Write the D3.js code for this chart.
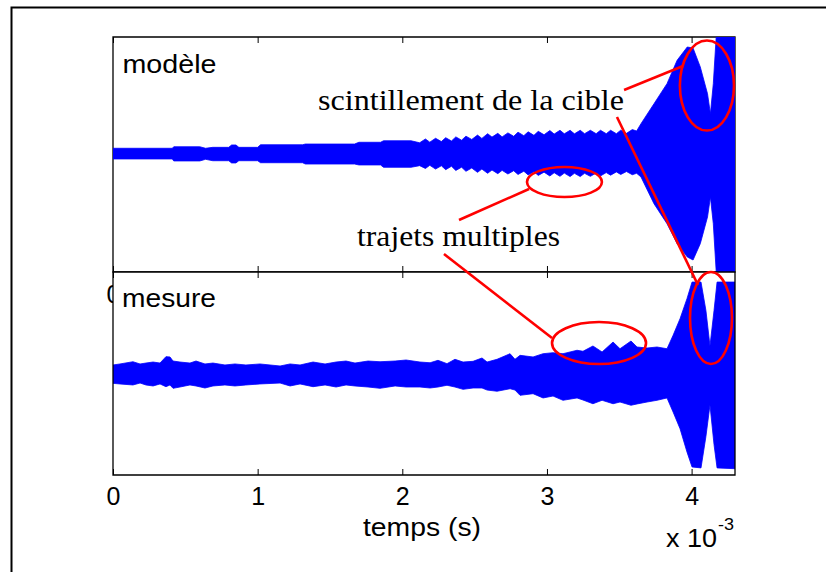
<!DOCTYPE html>
<html><head><meta charset="utf-8">
<script src="https://cdn.jsdelivr.net/npm/d3@7/dist/d3.min.js"></script>
<style>body{margin:0;background:#fff}svg{display:block}</style>
</head><body>
<script>
// ---------------- data ----------------
const xTicks = [0, 1, 2, 3, 4];
const xLabel = "temps (s)";
const xExponent = "-3";
const panelLabels = ["modèle", "mesure"];

// top panel : signal modelled (envelope, upper / lower)
const modeleT = [0,0.41,0.42,0.60,0.64,0.69,0.80,0.82,0.85,0.87,1.00,1.02,1.31,1.33,1.67,1.70,1.85,1.87,2.06,2.12,
  2.16,2.19,2.23,2.27,2.30,2.34,2.37,2.41,2.44,2.48,2.52,2.55,2.59,2.62,2.66,2.69,2.73,2.77,2.80,2.84,2.87,2.91,2.94,2.98,
  3.02,3.05,3.09,3.12,3.16,3.19,3.23,3.26,3.30,3.34,3.37,3.41,3.44,3.48,3.51,3.55,3.59,3.62,
  3.65,3.74,3.83,3.90,3.97,4.01,4.06,4.11,4.13,4.15,4.18,4.30];
const modeleHaut = [0.053,0.053,0.066,0.066,0.053,0.061,0.061,0.081,0.081,0.061,0.061,0.083,0.083,0.089,0.089,0.104,0.104,0.117,0.117,0.100,
  0.132,0.105,0.138,0.110,0.143,0.115,0.150,0.122,0.156,0.128,0.165,0.137,0.177,0.148,0.180,0.150,0.184,0.155,0.190,0.160,0.193,0.163,0.197,0.168,
  0.204,0.174,0.206,0.176,0.206,0.176,0.206,0.177,0.206,0.177,0.206,0.177,0.206,0.177,0.207,0.180,0.212,0.200,
  0.262,0.432,0.603,0.802,0.915,0.906,0.745,0.517,0.347,0.603,1.2,1.2];
const modeleBas = [-0.038,-0.038,-0.055,-0.055,-0.041,-0.053,-0.053,-0.072,-0.072,-0.053,-0.053,-0.070,-0.070,-0.081,-0.081,-0.089,-0.089,-0.109,-0.109,-0.095,
  -0.119,-0.092,-0.124,-0.096,-0.129,-0.100,-0.136,-0.108,-0.143,-0.115,-0.152,-0.124,-0.160,-0.132,-0.163,-0.135,-0.166,-0.138,-0.170,-0.142,-0.174,-0.146,-0.178,-0.150,
  -0.183,-0.155,-0.186,-0.158,-0.188,-0.160,-0.188,-0.160,-0.186,-0.158,-0.182,-0.154,-0.176,-0.148,-0.170,-0.145,-0.172,-0.160,
  -0.191,-0.419,-0.589,-0.759,-0.872,-0.898,-0.759,-0.532,-0.362,-0.589,-1.2,-1.2];

// bottom panel : measured signal (envelope, upper / lower)
const mesureT = [0,0.048,0.138,0.187,0.228,0.277,0.325,0.366,0.394,0.415,0.463,0.532,0.574,0.636,0.691,0.774,0.843,0.919,1.016,1.155,
  1.224,1.293,1.383,1.466,1.542,1.611,1.673,1.763,1.846,1.950,2.026,2.122,2.192,2.247,2.309,2.364,2.420,2.489,2.551,2.586,
  2.655,2.745,2.779,2.814,2.904,2.973,3.042,3.111,3.208,3.249,3.318,3.381,3.457,3.505,3.581,3.623,3.692,3.761,3.830,3.872,
  3.920,3.968,4.003,4.065,4.099,4.127,4.155,4.176,4.300];
const mesureHaut = [0.084,0.094,0.116,0.094,0.103,0.113,0.103,0.166,0.163,0.123,0.113,0.103,0.123,0.094,0.103,0.084,0.094,0.084,0.094,0.074,
  0.094,0.084,0.113,0.094,0.113,0.123,0.103,0.123,0.116,0.123,0.133,0.113,0.106,0.130,0.097,0.140,0.113,0.120,0.153,0.113,
  0.140,0.195,0.140,0.179,0.163,0.195,0.205,0.195,0.229,0.219,0.271,0.212,0.310,0.244,0.320,0.261,0.251,0.261,0.244,0.376,
  0.540,0.737,0.901,0.901,0.620,0.271,0.620,0.901,0.901];
const mesureBas = [-0.097,-0.103,-0.113,-0.094,-0.113,-0.123,-0.103,-0.130,-0.113,-0.146,-0.133,-0.113,-0.123,-0.143,-0.123,-0.113,-0.123,-0.113,-0.103,-0.094,
  -0.123,-0.103,-0.130,-0.113,-0.133,-0.113,-0.123,-0.133,-0.146,-0.123,-0.133,-0.133,-0.143,-0.133,-0.116,-0.133,-0.156,-0.143,-0.143,-0.163,
  -0.175,-0.150,-0.163,-0.215,-0.199,-0.241,-0.222,-0.264,-0.241,-0.261,-0.298,-0.264,-0.298,-0.281,-0.313,-0.300,-0.281,-0.264,-0.241,-0.379,
  -0.544,-0.773,-0.921,-0.930,-0.620,-0.310,-0.700,-0.930,-0.938];

// annotations (data coordinates: t in 1e-3 s, amplitude in panel units)
const annotTexts = [
  {panel: 0, t: 1.417, v: 0.379, text: "scintillement de la cible", len: 306},
  {panel: 0, t: 1.687, v: -0.779, text: "trajets multiples", len: 203}
];
const annotEllipses = [
  {panel: 0, t: 4.106, v: 0.587, rt: 0.187, rv: 0.383},
  {panel: 0, t: 3.121, v: -0.234, rt: 0.259, rv: 0.128},
  {panel: 1, t: 3.360, v: 0.300, rt: 0.325, rv: 0.207},
  {panel: 1, t: 4.134, v: 0.547, rt: 0.145, rv: 0.453}
];
const annotLines = [
  {p1: 0, t1: 3.533, v1: 0.549, p2: 0, t2: 3.941, v2: 0.753},
  {p1: 0, t1: 3.484, v1: 0.319, p2: 1, t2: 4.044, v2: 0.872},
  {p1: 0, t1: 2.392, v1: -0.557, p2: 0, t2: 2.876, v2: -0.294},
  {p1: 0, t1: 2.288, v1: -0.847, p2: 1, t2: 3.035, v2: 0.350}
];

// ---------------- drawing ----------------
const W = 826, H = 572;
const SANS = "'Liberation Sans', Arial, Helvetica, sans-serif";
const SERIF = "'Liberation Serif', 'Times New Roman', serif";
const BLUE = "#0000ff", RED = "#ff0000";

const svg = d3.select("body").append("svg").attr("width", W).attr("height", H);
svg.append("rect").attr("width", W).attr("height", H).attr("fill", "#fff");

// outer frame (left + top edges)
svg.append("path").attr("d", "M11.5,572 V7.5 H826").attr("fill", "none")
  .attr("stroke", "#000").attr("stroke-width", 2);

const x = d3.scaleLinear().domain([0, 4.3]).range([113, 735]);
const panels = [
  {y: d3.scaleLinear().domain([-1, 1]).range([272, 37]), top: 37, bottom: 272,
   T: modeleT, Hi: modeleHaut, Lo: modeleBas, label: panelLabels[0], labelBase: 73},
  {y: d3.scaleLinear().domain([-1, 1]).range([475, 272]), top: 272, bottom: 475,
   T: mesureT, Hi: mesureHaut, Lo: mesureBas, label: panelLabels[1], labelBase: 307}
];

const defs = svg.append("defs");

function drawAxes(g, p, pad) {
  const ax = g.append("g").attr("transform", `translate(0,${p.bottom})`)
    .call(d3.axisBottom(x).tickValues(xTicks).tickSizeInner(-6).tickSizeOuter(0)
      .tickPadding(pad).tickFormat(d3.format("d")));
  ax.select(".domain").remove();
  ax.selectAll("line").attr("stroke", "#000");
  ax.selectAll("text").attr("font-family", SANS).attr("font-size", 25).attr("fill", "#000");
  const at = g.append("g").attr("transform", `translate(0,${p.top})`)
    .call(d3.axisTop(x).tickValues(xTicks).tickSizeInner(-6).tickSizeOuter(0).tickFormat(""));
  at.select(".domain").remove();
  at.selectAll("line").attr("stroke", "#000");
}

function drawSignal(g, p, i) {
  defs.append("clipPath").attr("id", "clip" + i).append("rect")
    .attr("x", x.range()[0]).attr("y", p.top)
    .attr("width", x.range()[1] - x.range()[0]).attr("height", p.bottom - p.top);
  const data = p.T.map((t, k) => ({t, hi: p.Hi[k], lo: p.Lo[k]}));
  const area = d3.area().x(d => x(d.t)).y0(d => p.y(d.lo)).y1(d => p.y(d.hi));
  g.append("path").datum(data).attr("d", area).attr("fill", BLUE)
    .attr("stroke", BLUE).attr("stroke-width", 0.8)
    .attr("clip-path", `url(#clip${i})`);
}

function boxPath(p) {
  const [x0, x1] = x.range();
  return `M${x0},${p.bottom} V${p.top} H${x1} V${p.bottom} Z`;
}

// ---- top panel
const g0 = svg.append("g");
const p0 = panels[0];
g0.append("path").attr("d", boxPath(p0)).attr("fill", "none").attr("stroke", "#000").attr("stroke-width", 1.3);
drawAxes(g0, p0, 13);
drawSignal(g0, p0, 0);
g0.append("text").attr("x", 122.5).attr("y", p0.labelBase).text(p0.label)
  .attr("font-family", SANS).attr("font-size", 25)
  .attr("textLength", 94).attr("lengthAdjust", "spacingAndGlyphs");

// ---- bottom panel
const g1 = svg.append("g");
const p1 = panels[1];
g1.append("rect").attr("x", x.range()[0]).attr("y", p1.top)
  .attr("width", x.range()[1] - x.range()[0]).attr("height", p1.bottom - p1.top).attr("fill", "#fff");
drawSignal(g1, p1, 1);
g1.append("path").attr("d", boxPath(p1)).attr("fill", "none").attr("stroke", "#000").attr("stroke-width", 1.3);
drawAxes(g1, p1, 12);
g1.append("text").attr("x", 122).attr("y", p1.labelBase).text(p1.label)
  .attr("font-family", SANS).attr("font-size", 25)
  .attr("textLength", 94).attr("lengthAdjust", "spacingAndGlyphs");

// x label and exponent
svg.append("text").attr("x", 422).attr("y", 536).attr("text-anchor", "middle").text(xLabel)
  .attr("font-family", SANS).attr("font-size", 25)
  .attr("textLength", 118).attr("lengthAdjust", "spacingAndGlyphs");
svg.append("text").attr("x", 666).attr("y", 547).text("x 10")
  .attr("font-family", SANS).attr("font-size", 25)
  .attr("textLength", 51).attr("lengthAdjust", "spacingAndGlyphs");
svg.append("text").attr("x", 718).attr("y", 530).text(xExponent)
  .attr("font-family", SANS).attr("font-size", 16)
  .attr("textLength", 16).attr("lengthAdjust", "spacingAndGlyphs");

// ---- annotations
const ann = svg.append("g");
annotEllipses.forEach(e => {
  const p = panels[e.panel];
  ann.append("ellipse").attr("cx", x(e.t)).attr("cy", p.y(e.v))
    .attr("rx", x(e.t + e.rt) - x(e.t)).attr("ry", p.y(e.v) - p.y(e.v + e.rv))
    .attr("fill", "none").attr("stroke", RED).attr("stroke-width", 2.6);
});
annotLines.forEach(l => {
  ann.append("line")
    .attr("x1", x(l.t1)).attr("y1", panels[l.p1].y(l.v1))
    .attr("x2", x(l.t2)).attr("y2", panels[l.p2].y(l.v2))
    .attr("stroke", RED).attr("stroke-width", 2.6);
});
annotTexts.forEach(a => {
  ann.append("text").attr("x", x(a.t)).attr("y", panels[a.panel].y(a.v)).text(a.text)
    .attr("font-family", SERIF).attr("font-size", 28.5).attr("fill", "#000")
    .attr("textLength", a.len).attr("lengthAdjust", "spacingAndGlyphs");
});
</script>
</body></html>
